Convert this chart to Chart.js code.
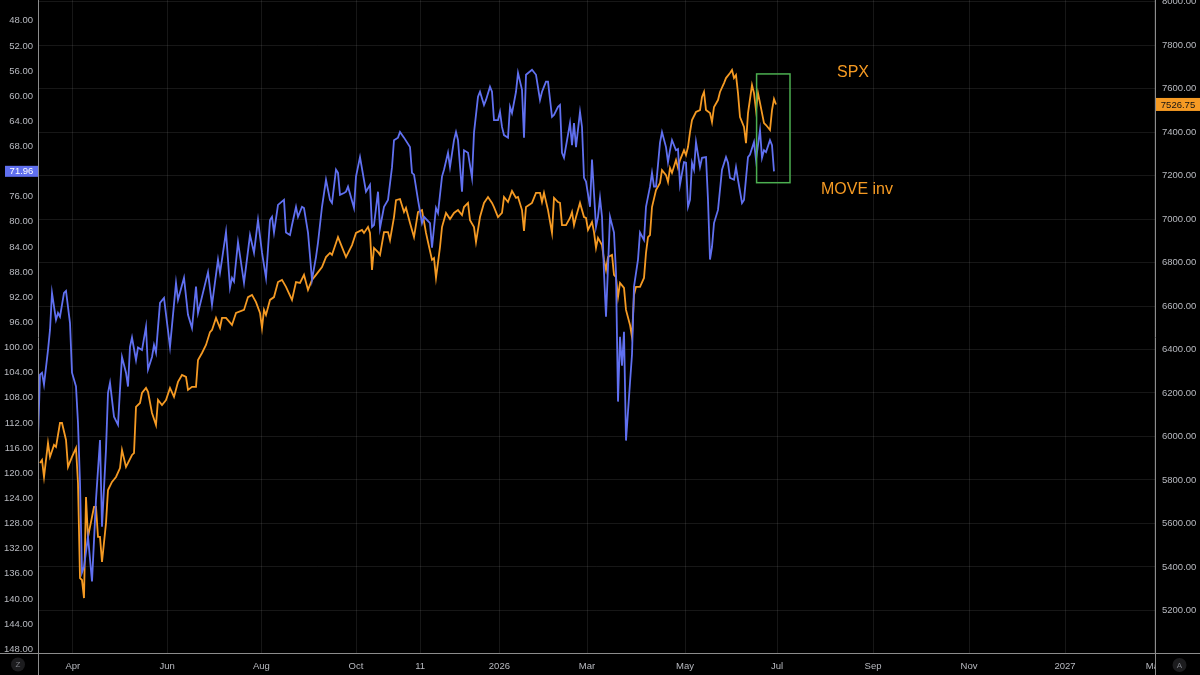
<!DOCTYPE html>
<html>
<head>
<meta charset="utf-8">
<script src="https://cdn.jsdelivr.net/npm/chart.js@4.4.1/dist/chart.umd.min.js"></script>
<style>
  html, body { margin: 0; padding: 0; background: #000; }
  #wrap { width: 1200px; height: 675px; }
</style>
</head>
<body>
<div id="wrap"><canvas id="chart" width="1200" height="675"></canvas></div>
<script>
// Session index (x) and values
const spxDays = [
  1, 2, 3, 5, 6, 8, 9, 11, 12, 14,
  15, 17, 19, 20, 21, 22, 23, 24, 25, 27,
  28, 29, 30, 31, 32, 34, 35, 37, 39, 41,
  42, 44, 47, 48, 49, 51, 52, 54, 55, 57,
  59, 60, 62, 64, 66, 68, 70, 72, 74, 75,
  77, 79, 80, 82, 84, 86, 87, 89, 91, 92,
  94, 97, 99, 103, 105, 107, 109, 111, 112, 113,
  114, 116, 118, 120, 122, 124, 127, 129, 131, 133,
  135, 137, 139, 142, 144, 146, 147, 150, 152, 154,
  157, 159, 162, 163, 165, 166, 167, 168, 170, 171,
  173, 175, 176, 178, 179, 181, 183, 184, 186, 188,
  190, 192, 194, 195, 197, 198, 199, 201, 202, 204,
  206, 208, 210, 212, 213, 215, 216, 218, 219, 221,
  223, 225, 227, 228, 230, 232, 233, 235, 237, 239,
  240, 242, 243, 244, 247, 249, 251, 252, 253, 255,
  257, 258, 260, 261, 262, 264, 266, 267, 268, 269,
  271, 273, 274, 275, 277, 278, 279, 280, 282, 283,
  284, 285, 287, 288, 289, 290, 291, 293, 294, 296,
  297, 298, 299, 301, 303, 304, 305, 306, 307, 309,
  311, 312, 314, 315, 316, 317, 319, 320, 321, 323,
  324, 325, 326, 327, 329, 331, 332, 333, 334, 336,
  337, 338, 340, 341, 343, 344, 346, 347, 348, 349,
  350, 351, 353, 354, 355, 357, 358, 359, 360, 361,
  363, 364, 366, 367, 368, 369
];
const spxValues = [
  5878, 5892, 5814, 5970, 5906, 5961, 5952, 6062, 6062, 5984,
  5860, 5906, 5947, 5786, 5349, 5340, 5257, 5722, 5538, 5630,
  5676, 5676, 5538, 5538, 5423, 5602, 5754, 5791, 5814, 5855,
  5938, 5860, 5915, 5924, 6136, 6154, 6200, 6223, 6205, 6108,
  6053, 6168, 6145, 6168, 6223, 6182, 6251, 6283, 6274, 6214,
  6228, 6228, 6352, 6384, 6421, 6480, 6490, 6545, 6499, 6545,
  6545, 6513, 6568, 6582, 6641, 6651, 6618, 6568, 6499, 6582,
  6559, 6628, 6641, 6710, 6720, 6688, 6628, 6710, 6706, 6743,
  6674, 6720, 6743, 6779, 6825, 6844, 6835, 6917, 6871, 6825,
  6880, 6936, 6950, 6936, 6963, 6936, 6766, 6867, 6848, 6835,
  6940, 6940, 6903, 7009, 7087, 7092, 7032, 7051, 6982, 6917,
  7032, 7041, 6936, 6894, 6812, 6820, 6729, 6871, 6963, 7028,
  7000, 7028, 7041, 7018, 7055, 7074, 6995, 6963, 6894, 7009,
  7074, 7101, 7074, 7055, 7009, 7028, 7101, 7078, 7129, 7097,
  7101, 7041, 6945, 7055, 7074, 7120, 7120, 7078, 7120, 7041,
  6936, 7097, 7078, 7074, 6972, 6972, 7005, 7032, 6972, 7009,
  7074, 7009, 7005, 6950, 6986, 6940, 6867, 6913, 6880, 6812,
  6766, 6825, 6835, 6743, 6733, 6641, 6706, 6683, 6582, 6513,
  6457, 6651, 6688, 6688, 6729, 6844, 6917, 6926, 7055, 7133,
  7166, 7225, 7202, 7170, 7235, 7212, 7271, 7235, 7271, 7317,
  7294, 7331, 7400, 7455, 7492, 7501, 7561, 7584, 7501, 7487,
  7446, 7515, 7547, 7584, 7625, 7648, 7671, 7685, 7648, 7662,
  7579, 7469, 7423, 7349, 7487, 7616, 7579, 7501, 7579, 7534,
  7441, 7432, 7409, 7501, 7552, 7526.75
];

const moveDays = [
  0, 1, 2, 3, 5, 6, 7, 9, 10, 11,
  13, 14, 16, 17, 19, 20, 21, 22, 23, 25,
  27, 29, 31, 32, 34, 35, 36, 38, 40, 41,
  42, 44, 45, 46, 47, 49, 50, 52, 54, 55,
  57, 58, 59, 61, 63, 66, 69, 70, 73, 75,
  77, 79, 80, 85, 87, 90, 91, 92, 94, 96,
  97, 98, 100, 103, 106, 108, 110, 112, 114, 116,
  117, 118, 120, 123, 124, 126, 127, 129, 130, 132,
  133, 135, 137, 139, 140, 142, 144, 146, 147, 149,
  150, 151, 153, 154, 155, 158, 159, 161, 164, 166,
  167, 168, 170, 171, 173, 175, 177, 178, 180, 181,
  183, 186, 187, 188, 190, 192, 193, 196, 197, 199,
  200, 202, 203, 205, 206, 208, 209, 210, 212, 213,
  215, 217, 218, 220, 221, 223, 224, 226, 227, 228,
  230, 231, 232, 233, 235, 236, 237, 239, 240, 242,
  243, 244, 247, 249, 251, 252, 254, 255, 257, 258,
  260, 261, 262, 263, 266, 267, 268, 269, 271, 272,
  273, 274, 276, 277, 278, 279, 280, 281, 282, 283,
  284, 285, 286, 288, 289, 290, 291, 292, 293, 294,
  296, 297, 298, 300, 301, 303, 304, 306, 307, 308,
  309, 311, 312, 314, 315, 316, 317, 319, 320, 321,
  323, 324, 325, 326, 327, 328, 329, 331, 332, 334,
  335, 336, 337, 338, 340, 342, 344, 345, 346, 348,
  349, 350, 352, 353, 355, 356, 358, 359, 361, 362,
  363, 364, 366, 367, 368
];
const moveValues = [
  114.7, 104.3, 104.0, 105.9, 100.4, 97.2, 91.3, 95.6, 94.5, 95.1,
  91.3, 91.0, 96.1, 104.0, 106.2, 112.0, 121.5, 135.8, 134.9, 130.1,
  137.2, 124.2, 114.7, 128.5, 116.2, 107.2, 105.6, 111.0, 112.3, 106.7,
  101.5, 104.0, 106.2, 99.9, 98.4, 102.0, 100.0, 100.4, 96.7, 103.5,
  101.5, 99.6, 100.8, 92.9, 92.1, 99.9, 89.7, 92.4, 88.9, 94.8,
  96.9, 90.3, 94.5, 88.0, 93.2, 86.0, 88.1, 86.0, 81.6, 90.5,
  88.9, 89.5, 83.2, 89.7, 82.1, 84.9, 79.7, 84.9, 88.9, 79.7,
  79.2, 81.7, 77.3, 76.5, 81.7, 82.1, 80.5, 77.6, 79.2, 77.6,
  77.8, 81.7, 89.2, 85.6, 83.3, 77.6, 73.3, 76.5, 77.0, 71.7,
  72.2, 75.7, 75.4, 75.2, 74.4, 77.8, 72.8, 69.7, 75.2, 74.1,
  80.8, 80.5, 75.2, 81.0, 77.6, 76.5, 71.3, 67.0, 66.6, 65.7,
  66.6, 68.1, 72.2, 72.5, 76.5, 80.2, 79.2, 80.2, 84.1, 77.8,
  78.6, 72.8, 71.7, 69.0, 71.3, 67.0, 65.7, 67.0, 75.2, 68.6,
  69.0, 73.0, 65.8, 60.1, 59.3, 61.4, 60.6, 58.5, 59.3, 63.8,
  63.8, 62.5, 64.9, 66.2, 66.6, 61.7, 62.7, 59.3, 56.3, 59.0,
  66.6, 56.6, 55.8, 56.6, 60.6, 59.3, 57.7, 57.7, 63.3, 63.0,
  61.7, 61.4, 69.0, 69.8, 64.3, 67.8, 64.3, 68.1, 62.5, 64.9,
  73.0, 73.6, 77.6, 70.1, 75.4, 80.8, 79.2, 76.2, 79.2, 88.1,
  95.1, 87.2, 79.2, 81.7, 88.1, 108.6, 98.3, 102.9, 97.5, 114.8,
  105.6, 101.1, 90.3, 86.0, 81.7, 82.9, 77.6, 74.4, 72.2, 74.4,
  74.4, 67.4, 65.7, 68.1, 70.5, 68.6, 67.0, 68.6, 68.4, 74.1,
  70.5, 70.6, 77.6, 76.5, 70.6, 71.7, 67.3, 71.3, 69.8, 69.7,
  76.5, 86.0, 84.0, 80.2, 78.1, 71.7, 69.7, 70.6, 73.0, 73.3,
  71.3, 73.3, 77.0, 76.5, 69.7, 69.3, 67.3, 70.1, 65.4, 69.8,
  68.6, 68.9, 67.0, 67.8, 71.96
];

// Axis ticks
const xTickPos = [17.4, 64.6, 111.7, 159, 191.1, 230.7, 274.5, 323.5, 369.5, 417.5, 465.5, 513.5, 558];
const xTickLabels = ['Apr', 'Jun', 'Aug', 'Oct', '11', '2026', 'Mar', 'May', 'Jul', 'Sep', 'Nov', '2027', 'Mar'];
const moveTicks = [48, 52, 56, 60, 64, 68, 72, 76, 80, 84, 88, 92, 96, 100, 104, 108, 112, 116, 120, 124, 128, 132, 136, 140, 144, 148];
const spxTicks = [5200, 5400, 5600, 5800, 6000, 6200, 6400, 6600, 6800, 7000, 7200, 7400, 7600, 7800, 8000];

// Annotations (in data units)
const boxDays = [359.3, 376];
const boxSpx = [7167, 7667];
const seriesLabels = [
  { text: 'SPX', day: 399.5, spx: 7671 },
  { text: 'MOVE inv', day: 391.5, spx: 7133 }
];

const ORANGE = '#f59a23';
const BLUE = '#6070f0';
const TICK = '#b8bac0';
const GRID = 'rgba(255,255,255,0.09)';
const AXIS_LINE = '#8c8c8c';
const FONT = 'Liberation Sans, Arial, sans-serif';

function pair(xs, ys) {
  return xs.map((x, i) => ({ x: x, y: ys[i] }));
}

function badge(ctx, x, y, w, h, bg, fg, text) {
  ctx.fillStyle = bg;
  ctx.fillRect(x, y - h / 2, w, h);
  ctx.fillStyle = fg;
  ctx.font = '9.5px ' + FONT;
  ctx.textAlign = 'center';
  ctx.textBaseline = 'middle';
  ctx.fillText(text, x + w / 2, y + 0.5);
}

function circleLabel(ctx, cx, cy, letter) {
  ctx.beginPath();
  ctx.arc(cx, cy, 7, 0, Math.PI * 2);
  ctx.fillStyle = '#1c1c1e';
  ctx.fill();
  ctx.fillStyle = '#7d7f85';
  ctx.font = '8px ' + FONT;
  ctx.textAlign = 'center';
  ctx.textBaseline = 'middle';
  ctx.fillText(letter, cx, cy + 0.5);
}

const overlay = {
  id: 'overlay',
  afterDraw(chart) {
    const ctx = chart.ctx;
    const x = chart.scales.x, spx = chart.scales.spx, move = chart.scales.move;
    const W = chart.width, H = chart.height;
    const area = chart.chartArea;
    ctx.save();

    // clip the x label running under the price scale
    ctx.fillStyle = '#000';
    ctx.fillRect(area.right, area.bottom, W - area.right, H - area.bottom);

    // axis lines
    ctx.strokeStyle = AXIS_LINE;
    ctx.lineWidth = 1;
    ctx.beginPath();
    ctx.moveTo(Math.round(area.left) + 0.5, 0);
    ctx.lineTo(Math.round(area.left) + 0.5, H);
    ctx.moveTo(Math.round(area.right) + 0.5, 0);
    ctx.lineTo(Math.round(area.right) + 0.5, H);
    ctx.moveTo(0, Math.round(area.bottom) + 0.5);
    ctx.lineTo(W, Math.round(area.bottom) + 0.5);
    ctx.stroke();

    // green box
    const bx0 = x.getPixelForValue(boxDays[0]);
    const bx1 = x.getPixelForValue(boxDays[1]);
    const by0 = spx.getPixelForValue(boxSpx[1]);
    const by1 = spx.getPixelForValue(boxSpx[0]);
    ctx.strokeStyle = '#4caf50';
    ctx.lineWidth = 1.5;
    ctx.strokeRect(bx0, by0, bx1 - bx0, by1 - by0);

    // series labels
    ctx.fillStyle = ORANGE;
    ctx.font = '16px ' + FONT;
    ctx.textAlign = 'left';
    ctx.textBaseline = 'middle';
    seriesLabels.forEach(l => {
      ctx.fillText(l.text, x.getPixelForValue(l.day), spx.getPixelForValue(l.spx));
    });

    // last value badges
    const lastMove = moveValues[moveValues.length - 1];
    const lastSpx = spxValues[spxValues.length - 1];
    badge(ctx, 5, move.getPixelForValue(lastMove), area.left - 5, 11, BLUE, '#ffffff', lastMove.toFixed(2));
    badge(ctx, area.right + 1, spx.getPixelForValue(lastSpx), W - area.right - 1, 13, ORANGE, '#131313', lastSpx.toFixed(2));

    circleLabel(ctx, 18, 664.5, 'Z');
    circleLabel(ctx, 1179.5, 665, 'A');
    ctx.restore();
  }
};

const ctx = document.getElementById('chart').getContext('2d');
new Chart(ctx, {
  type: 'line',
  data: {
    datasets: [{
      label: 'MOVE inv',
      data: pair(moveDays, moveValues),
      yAxisID: 'move',
      borderColor: BLUE,
      borderWidth: 1.8,
      pointRadius: 0,
      tension: 0
    }, {
      label: 'SPX',
      data: pair(spxDays, spxValues),
      yAxisID: 'spx',
      borderColor: ORANGE,
      borderWidth: 1.8,
      pointRadius: 0,
      tension: 0
    }]
  },
  options: {
    responsive: false,
    animation: false,
    devicePixelRatio: 1,
    events: [],
    layout: { padding: 0 },
    plugins: { legend: { display: false }, tooltip: { enabled: false } },
    scales: {
      x: {
        type: 'linear',
        position: 'bottom',
        min: 0,
        max: 558.5,
        afterBuildTicks: s => { s.ticks = xTickPos.map(v => ({ value: v })); },
        afterFit: s => { s.height = 22; s.paddingLeft = 0; s.paddingRight = 0; },
        grid: { color: GRID, drawTicks: false },
        border: { display: false },
        ticks: {
          autoSkip: false,
          maxRotation: 0,
          padding: 8,
          color: TICK,
          font: { family: FONT, size: 9.5 },
          callback: (v, i) => xTickLabels[i]
        }
      },
      move: {
        type: 'linear',
        position: 'left',
        reverse: true,
        min: 44.7,
        max: 148.6,
        afterBuildTicks: s => { s.ticks = moveTicks.map(v => ({ value: v })); },
        afterFit: s => { s.width = 38; s.paddingTop = 0; s.paddingBottom = 0; },
        grid: { display: false, drawTicks: false },
        border: { display: false },
        ticks: {
          autoSkip: false,
          padding: 5,
          color: TICK,
          font: { family: FONT, size: 9.5 },
          callback: v => v.toFixed(2)
        }
      },
      spx: {
        type: 'linear',
        position: 'right',
        min: 5004.5,
        max: 8007,
        afterBuildTicks: s => { s.ticks = spxTicks.map(v => ({ value: v })); },
        afterFit: s => { s.width = 45; s.paddingTop = 0; s.paddingBottom = 0; },
        grid: { color: GRID, drawTicks: false },
        border: { display: false },
        ticks: {
          autoSkip: false,
          padding: 7,
          color: TICK,
          font: { family: FONT, size: 9.5 },
          callback: v => v.toFixed(2)
        }
      }
    }
  },
  plugins: [overlay]
});
</script>
</body>
</html>
